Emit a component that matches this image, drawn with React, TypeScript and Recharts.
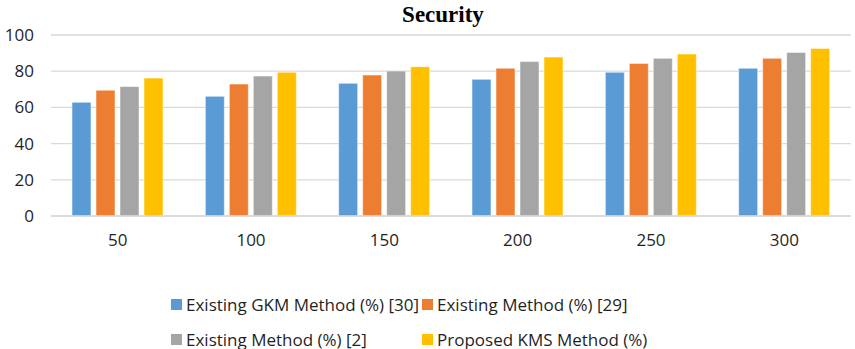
import React from "react";
import { BarChart, Bar, XAxis, YAxis, CartesianGrid } from "recharts";

// Node counts on the x axis
const categories = ["50", "100", "150", "200", "250", "300"];

// Security (%) for each method
const gkmExisting = [62.8, 66.1, 73.3, 75.5, 79.4, 81.6];
const existing29 = [69.5, 72.9, 77.9, 81.6, 84.3, 87.1];
const existing2 = [71.5, 77.3, 80.1, 85.3, 87.1, 90.4];
const proposedKms = [76.2, 79.4, 82.5, 87.8, 89.5, 92.6];

const yTicks = [0, 20, 40, 60, 80, 100];

const series = [
  { key: "gkm", name: "Existing GKM Method (%) [30]", color: "#5B9BD5", values: gkmExisting },
  { key: "e29", name: "Existing Method (%) [29]", color: "#ED7D31", values: existing29 },
  { key: "e2", name: "Existing Method (%) [2]", color: "#A5A5A5", values: existing2 },
  { key: "kms", name: "Proposed KMS Method (%)", color: "#FFC000", values: proposedKms },
];

const data = categories.map((c, i) => {
  const row: Record<string, string | number> = { nodes: c };
  series.forEach((s) => {
    row[s.key] = s.values[i];
  });
  return row;
});

const font = "'Open Sans', 'Noto Sans', sans-serif";

// legend slots: two columns, two rows (row centres)
const legendLeft = [171, 422];
const legendMid = [304.5, 339.5];
const legendLine = 18;

export default function App() {
  return (
    <div style={{ position: "absolute", left: 0, top: 0, width: 855, height: 349, background: "#fff", overflow: "hidden" }}>
      <div
        style={{
          position: "absolute",
          left: 0,
          top: 2,
          width: 886,
          textAlign: "center",
          fontFamily: "'Liberation Serif', 'Times New Roman', serif",
          fontWeight: "bold",
          fontSize: 23,
          color: "#000",
        }}
      >
        Security
      </div>
      <BarChart
        width={855}
        height={349}
        data={data}
        margin={{ top: 35, right: 4, left: 0, bottom: 103 }}
        barSize={19}
        barGap={5}
      >
        <CartesianGrid vertical={false} stroke="#d9d9d9" strokeWidth={1.3} />
        <XAxis
          dataKey="nodes"
          height={30}
          tickLine={false}
          axisLine={{ stroke: "#d9d9d9", strokeWidth: 1.3 }}
          tickMargin={12}
          tick={{ fill: "#1f1f1f", fontSize: 17, fontFamily: font }}
          interval={0}
        />
        <YAxis
          width={51}
          domain={[0, 100]}
          ticks={yTicks}
          tickLine={false}
          axisLine={false}
          tickMargin={11}
          tick={{ fill: "#1f1f1f", fontSize: 17, fontFamily: font }}
        />
        {series.map((s) => (
          <Bar
            key={s.key}
            dataKey={s.key}
            name={s.name}
            fill={s.color}
            stroke="#ffffff"
            strokeOpacity={0.5}
            strokeWidth={1}
            isAnimationActive={false}
          />
        ))}
      </BarChart>
      {series.map((s, i) => {
        const col = i % 2;
        const row = Math.floor(i / 2);
        return (
          <div
            key={s.key}
            style={{
              position: "absolute",
              left: legendLeft[col],
              top: legendMid[row] - legendLine / 2,
              height: legendLine,
              lineHeight: `${legendLine}px`,
              display: "flex",
              alignItems: "center",
              fontFamily: font,
              fontSize: 17,
              color: "#1f1f1f",
              whiteSpace: "nowrap",
            }}
          >
            <span style={{ display: "inline-block", width: 11, height: 11, background: s.color, marginRight: 4 }} />
            {s.name}
          </div>
        );
      })}
    </div>
  );
}
